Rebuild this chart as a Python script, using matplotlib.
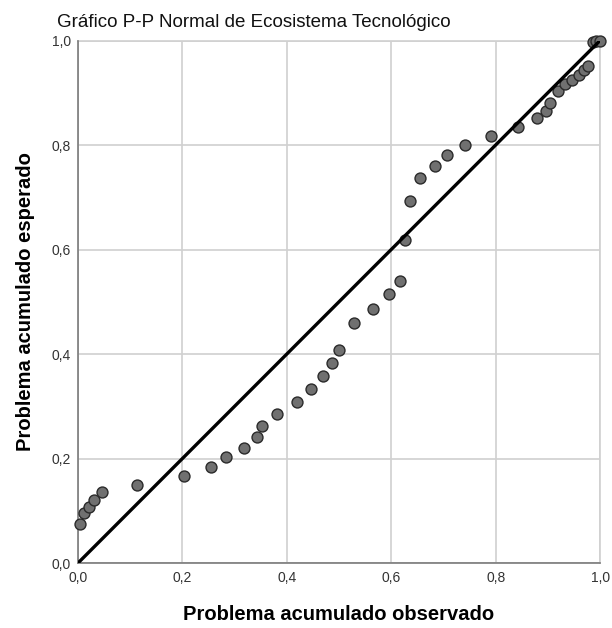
import matplotlib.pyplot as plt

observado = [0.004, 0.012, 0.021, 0.031, 0.045, 0.113, 0.203, 0.254, 0.284,
             0.318, 0.343, 0.352, 0.381, 0.419, 0.446, 0.470, 0.486, 0.500,
             0.528, 0.565, 0.595, 0.616, 0.626, 0.636, 0.656, 0.683, 0.707,
             0.741, 0.791, 0.842, 0.880, 0.896, 0.905, 0.919, 0.933, 0.946,
             0.959, 0.970, 0.977, 0.986, 0.993, 1.000]
esperado = [0.075, 0.096, 0.108, 0.121, 0.135, 0.150, 0.166, 0.184, 0.202,
            0.221, 0.241, 0.262, 0.285, 0.308, 0.333, 0.358, 0.382, 0.408,
            0.460, 0.487, 0.514, 0.540, 0.619, 0.693, 0.737, 0.759, 0.780,
            0.800, 0.818, 0.834, 0.851, 0.866, 0.881, 0.904, 0.916, 0.925,
            0.934, 0.943, 0.951, 0.998, 0.999, 1.000]

ticks = [0.0, 0.2, 0.4, 0.6, 0.8, 1.0]
tick_labels = ['0,0', '0,2', '0,4', '0,6', '0,8', '1,0']

plt.rcParams['font.family'] = ['Liberation Sans', 'DejaVu Sans']

fig = plt.figure(figsize=(6.12, 6.28), dpi=100)
ax = fig.add_axes([0.1275, 0.1035, 0.853, 0.832])

ax.scatter(observado, esperado, s=62, facecolor='#707070', edgecolor='#2a2a2a',
           linewidth=1.0, zorder=3, clip_on=False)
ax.plot([0, 1], [0, 1], color='black', linewidth=2.4, zorder=4, solid_capstyle='butt')

ax.set_xlim(0, 1)
ax.set_ylim(0, 1)
ax.set_xticks(ticks)
ax.set_xticklabels(tick_labels)
ax.set_yticks(ticks)
ax.set_yticklabels(tick_labels)
ax.tick_params(length=0, labelsize=10, colors='#333333')
ax.tick_params(axis='x', pad=6)
ax.tick_params(axis='y', pad=5)

ax.grid(True, color='#d0d0d0', linewidth=1.2)
ax.set_axisbelow(True)
for side in ['top', 'right']:
    ax.spines[side].set_visible(False)
for side in ['left', 'bottom']:
    ax.spines[side].set_color('#7a7a7a')
    ax.spines[side].set_linewidth(1.2)
# grid lines at the far edges
ax.axhline(1.0, color='#d0d0d0', linewidth=1.2, zorder=0, clip_on=False)
ax.axvline(1.0, color='#d0d0d0', linewidth=1.2, zorder=0, clip_on=False)

ax.set_title('Gráfico P-P Normal de Ecosistema Tecnológico', fontsize=13.5,
             loc='left', x=-0.04, pad=10, color='#111111')
ax.set_xlabel('Problema acumulado observado', fontsize=14.5, fontweight='bold', labelpad=14)
ax.set_ylabel('Problema acumulado esperado', fontsize=14.5, fontweight='bold', labelpad=12)

fig.savefig('out.png', dpi=100)
